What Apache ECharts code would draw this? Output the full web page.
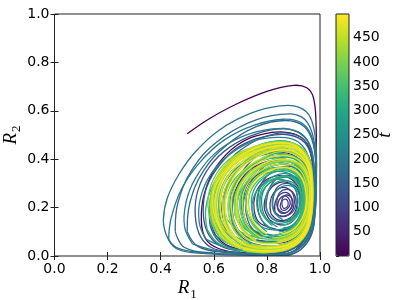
<!DOCTYPE html>
<html><head><meta charset="utf-8">
<script src="https://cdn.jsdelivr.net/npm/echarts@6/dist/echarts.min.js"></script>
<style>html,body{margin:0;padding:0;background:#fff}#c{width:405px;height:300px}</style>
</head><body><div id="c"></div>
<script>
// axis ticks
const xTicks = [0.0, 0.2, 0.4, 0.6, 0.8, 1.0];
const yTicks = [0.0, 0.2, 0.4, 0.6, 0.8, 1.0];
const cbTicks = [0, 50, 100, 150, 200, 250, 300, 350, 400, 450];
const tMin = 0, tMax = 499;
const viridis = ['#440154','#482475','#414487','#355f8d','#2a788e','#21918c','#22a884','#44bf70','#7ad151','#bddf26','#fde725'];

// trajectory (R1, R2), split into loops; loopTimes[i] = t at the start of loopPaths[i]
const loopTimes = [0,8,16,24,32,42,52,62,72,80,88,95,102,110,118,126,134,142,150,158,166,176,190,200,210,222,232,242,252,262,272,282,287,292,297,302,312,317,322,327,332,337,342,347,352,356,362,368,374,380,386,392,398,404,410,416,422,428,434,440,446,452,458,464,470,476,482,488,492,496,
  114,138,257,267,277,307,394,413,437,461,479,498,236,246];
const loopPaths = [
 [[0.50,0.505],[0.58,0.565],[0.68,0.625],[0.80,0.68],[0.90,0.705],[0.95,0.695],[0.975,0.655],[0.985,0.55],[0.985,0.40],[0.98,0.25],[0.965,0.13],[0.93,0.05],[0.88,0.01],[0.80,0.008],[0.70,0.015]],
 [[0.70,0.015],[0.62,0.03],[0.57,0.07],[0.553,0.15],[0.565,0.26],[0.61,0.37],[0.69,0.46],[0.79,0.505],[0.88,0.51],[0.94,0.48],[0.97,0.40],[0.975,0.27],[0.96,0.14],[0.92,0.05],[0.86,0.015],[0.76,0.02]],
 [[0.76,0.02],[0.66,0.04],[0.605,0.09],[0.59,0.17],[0.605,0.27],[0.65,0.36],[0.72,0.43],[0.81,0.465],[0.89,0.465],[0.945,0.43],[0.97,0.35],[0.97,0.23],[0.955,0.12],[0.91,0.05],[0.85,0.025],[0.78,0.035]],
 [[0.78,0.035],[0.69,0.06],[0.645,0.11],[0.63,0.19],[0.645,0.28],[0.69,0.36],[0.76,0.415],[0.84,0.43],[0.91,0.41],[0.955,0.35],[0.965,0.25],[0.95,0.15],[0.91,0.08],[0.86,0.055],[0.80,0.06]],
 [[0.80,0.06],[0.72,0.08],[0.68,0.13],[0.67,0.20],[0.685,0.28],[0.73,0.35],[0.80,0.39],[0.87,0.395],[0.925,0.36],[0.955,0.29],[0.955,0.20],[0.935,0.13],[0.895,0.09],[0.85,0.08],[0.80,0.09]],
 [[0.80,0.09],[0.74,0.11],[0.715,0.16],[0.71,0.22],[0.725,0.29],[0.77,0.34],[0.83,0.365],[0.89,0.355],[0.93,0.31],[0.945,0.24],[0.935,0.17],[0.905,0.12],[0.86,0.105],[0.82,0.115]],
 [[0.82,0.115],[0.77,0.14],[0.752,0.19],[0.755,0.25],[0.78,0.30],[0.83,0.33],[0.88,0.325],[0.915,0.29],[0.93,0.23],[0.915,0.17],[0.885,0.135],[0.845,0.13],[0.81,0.15]],
 [[0.81,0.15],[0.79,0.20],[0.80,0.255],[0.83,0.295],[0.87,0.305],[0.905,0.28],[0.915,0.23],[0.905,0.18],[0.875,0.15],[0.84,0.15],[0.815,0.175]],
 [[0.815,0.175],[0.812,0.22],[0.825,0.26],[0.855,0.283],[0.885,0.275],[0.902,0.245],[0.90,0.20],[0.88,0.17],[0.855,0.163],[0.83,0.18]],
 [[0.83,0.18],[0.832,0.225],[0.85,0.255],[0.875,0.262],[0.893,0.24],[0.893,0.205],[0.875,0.18],[0.852,0.178],[0.84,0.195]],
 [[0.84,0.195],[0.845,0.23],[0.865,0.248],[0.882,0.238],[0.888,0.215],[0.875,0.193],[0.857,0.19],[0.85,0.205]],
 [[0.85,0.205],[0.855,0.225],[0.87,0.235],[0.88,0.222],[0.876,0.203],[0.862,0.198],[0.857,0.212]],
 [[0.857,0.212],[0.858,0.238],[0.875,0.252],[0.893,0.24],[0.898,0.21],[0.882,0.185],[0.858,0.18],[0.84,0.20],[0.838,0.23]],
 [[0.838,0.23],[0.848,0.262],[0.875,0.275],[0.90,0.26],[0.91,0.22],[0.895,0.18],[0.865,0.165],[0.835,0.175],[0.822,0.21],[0.825,0.245]],
 [[0.825,0.245],[0.84,0.285],[0.875,0.30],[0.91,0.285],[0.925,0.235],[0.91,0.17],[0.87,0.145],[0.825,0.15],[0.80,0.19],[0.80,0.24]],
 [[0.80,0.24],[0.82,0.30],[0.86,0.33],[0.905,0.325],[0.935,0.28],[0.94,0.20],[0.915,0.135],[0.87,0.11],[0.81,0.115],[0.775,0.16],[0.765,0.22]],
 [[0.765,0.22],[0.78,0.30],[0.83,0.355],[0.89,0.37],[0.935,0.33],[0.955,0.25],[0.945,0.16],[0.91,0.10],[0.86,0.075],[0.79,0.08],[0.74,0.12],[0.72,0.19]],
 [[0.72,0.19],[0.73,0.28],[0.78,0.36],[0.85,0.405],[0.92,0.40],[0.96,0.33],[0.97,0.22],[0.95,0.12],[0.90,0.06],[0.82,0.04],[0.73,0.06],[0.68,0.11],[0.665,0.18]],
 [[0.665,0.18],[0.68,0.29],[0.73,0.38],[0.81,0.445],[0.89,0.455],[0.95,0.42],[0.975,0.32],[0.975,0.19],[0.955,0.09],[0.90,0.03],[0.81,0.015],[0.70,0.025],[0.62,0.06],[0.585,0.13]],
 [[0.585,0.13],[0.59,0.25],[0.64,0.37],[0.73,0.46],[0.83,0.505],[0.91,0.50],[0.96,0.45],[0.98,0.33],[0.978,0.18],[0.955,0.07],[0.89,0.015],[0.78,0.008],[0.64,0.015],[0.54,0.04],[0.50,0.10]],
 [[0.50,0.10],[0.51,0.22],[0.56,0.35],[0.65,0.46],[0.76,0.535],[0.87,0.56],[0.94,0.535],[0.975,0.46],[0.985,0.32],[0.98,0.16],[0.955,0.06],[0.89,0.008],[0.76,0.005],[0.60,0.012],[0.49,0.035],[0.455,0.10]],
 [[0.455,0.10],[0.465,0.22],[0.52,0.36],[0.61,0.47],[0.73,0.55],[0.85,0.585],[0.93,0.575],[0.97,0.51],[0.985,0.38],[0.983,0.20],[0.96,0.07],[0.89,0.005],[0.75,0.004],[0.57,0.01],[0.46,0.03],[0.42,0.09]],
 [[0.42,0.09],[0.41,0.15],[0.425,0.24],[0.47,0.34],[0.53,0.43],[0.62,0.52],[0.74,0.59],[0.85,0.62],[0.92,0.615],[0.965,0.57],[0.985,0.45],[0.985,0.28],[0.97,0.12],[0.92,0.03],[0.84,0.003],[0.70,0.006],[0.55,0.015],[0.46,0.035],[0.43,0.07]],
 [[0.43,0.07],[0.44,0.16],[0.48,0.28],[0.55,0.39],[0.64,0.48],[0.75,0.54],[0.86,0.565],[0.93,0.55],[0.97,0.49],[0.985,0.37],[0.98,0.20],[0.955,0.08],[0.89,0.015],[0.77,0.01],[0.62,0.02],[0.52,0.05]],
 [[0.52,0.05],[0.49,0.12],[0.495,0.22],[0.53,0.32],[0.60,0.42],[0.70,0.49],[0.82,0.525],[0.91,0.515],[0.96,0.46],[0.978,0.35],[0.975,0.20],[0.95,0.09],[0.89,0.03],[0.78,0.02],[0.65,0.035],[0.57,0.07]],
 [[0.57,0.07],[0.545,0.14],[0.55,0.24],[0.59,0.34],[0.66,0.42],[0.75,0.475],[0.85,0.49],[0.92,0.47],[0.96,0.40],[0.972,0.29],[0.965,0.17],[0.935,0.08],[0.87,0.035],[0.77,0.03],[0.66,0.05],[0.60,0.09]],
 [[0.60,0.09],[0.585,0.17],[0.60,0.27],[0.65,0.36],[0.73,0.43],[0.83,0.46],[0.91,0.44],[0.955,0.37],[0.965,0.26],[0.95,0.15],[0.91,0.07],[0.84,0.04],[0.74,0.045],[0.66,0.08]],
 [[0.66,0.08],[0.625,0.15],[0.625,0.25],[0.665,0.34],[0.74,0.40],[0.83,0.425],[0.90,0.405],[0.945,0.34],[0.955,0.24],[0.935,0.14],[0.89,0.08],[0.82,0.06],[0.74,0.07],[0.69,0.11]],
 [[0.69,0.11],[0.67,0.18],[0.68,0.26],[0.72,0.33],[0.79,0.38],[0.86,0.385],[0.92,0.35],[0.945,0.28],[0.94,0.19],[0.91,0.12],[0.86,0.09],[0.79,0.09],[0.73,0.12]],
 [[0.73,0.12],[0.71,0.19],[0.725,0.27],[0.77,0.33],[0.84,0.35],[0.90,0.33],[0.93,0.27],[0.93,0.19],[0.90,0.13],[0.85,0.11],[0.79,0.115],[0.75,0.15]],
 [[0.75,0.15],[0.745,0.22],[0.77,0.28],[0.82,0.315],[0.875,0.31],[0.91,0.27],[0.915,0.20],[0.89,0.15],[0.845,0.135],[0.80,0.15],[0.775,0.19]],
 [[0.775,0.19],[0.78,0.26],[0.82,0.31],[0.88,0.33],[0.925,0.30],[0.945,0.22],[0.93,0.14],[0.88,0.09],[0.80,0.08],[0.72,0.11],[0.68,0.17]],
 [[0.78,0.07],[0.725,0.12],[0.70,0.19],[0.705,0.26],[0.74,0.32],[0.80,0.365],[0.865,0.38],[0.92,0.36],[0.948,0.30],[0.95,0.21],[0.93,0.13],[0.885,0.085],[0.83,0.07]],
 [[0.68,0.17],[0.69,0.27],[0.74,0.36],[0.82,0.42],[0.90,0.43],[0.95,0.38],[0.97,0.27],[0.955,0.15],[0.91,0.06],[0.83,0.025],[0.72,0.03],[0.63,0.07],[0.595,0.14]],
 [[0.80,0.10],[0.76,0.145],[0.742,0.21],[0.75,0.27],[0.785,0.32],[0.84,0.35],[0.895,0.345],[0.93,0.30],[0.94,0.23],[0.925,0.16],[0.89,0.115],[0.845,0.10]],
 [[0.595,0.14],[0.60,0.25],[0.645,0.35],[0.72,0.43],[0.81,0.47],[0.89,0.47],[0.945,0.43],[0.968,0.34],[0.97,0.22],[0.95,0.11],[0.90,0.04],[0.82,0.015],[0.71,0.02],[0.62,0.05],[0.575,0.11]],
 [[0.575,0.11],[0.57,0.20],[0.60,0.30],[0.66,0.39],[0.75,0.45],[0.84,0.475],[0.91,0.46],[0.955,0.40],[0.968,0.30],[0.963,0.18],[0.93,0.08],[0.87,0.03],[0.78,0.02],[0.69,0.04],[0.63,0.09]],
 [[0.79,0.09],[0.745,0.135],[0.722,0.20],[0.728,0.27],[0.765,0.325],[0.825,0.36],[0.885,0.36],[0.93,0.32],[0.945,0.25],[0.935,0.17],[0.90,0.115],[0.85,0.09]],
 [[0.63,0.09],[0.605,0.17],[0.615,0.27],[0.66,0.36],[0.74,0.425],[0.83,0.45],[0.905,0.43],[0.95,0.37],[0.963,0.27],[0.95,0.16],[0.91,0.08],[0.85,0.045],[0.76,0.045],[0.68,0.08]],
 [[0.82,0.125],[0.785,0.17],[0.772,0.23],[0.785,0.285],[0.825,0.32],[0.875,0.33],[0.915,0.30],[0.93,0.24],[0.92,0.18],[0.89,0.14],[0.85,0.125]],
 [[0.68,0.08],[0.645,0.15],[0.645,0.24],[0.68,0.32],[0.75,0.38],[0.83,0.405],[0.90,0.385],[0.94,0.32],[0.948,0.23],[0.925,0.14],[0.875,0.085],[0.80,0.07],[0.72,0.09]],
 [[0.77,0.07],[0.715,0.12],[0.69,0.195],[0.697,0.27],[0.735,0.335],[0.80,0.375],[0.87,0.39],[0.925,0.365],[0.952,0.30],[0.953,0.21],[0.93,0.13],[0.88,0.085],[0.82,0.07]],
 [[0.72,0.09],[0.69,0.15],[0.69,0.23],[0.72,0.30],[0.78,0.35],[0.85,0.365],[0.91,0.34],[0.935,0.27],[0.93,0.18],[0.90,0.12],[0.85,0.09],[0.77,0.08],[0.70,0.10],[0.65,0.15]],
 [[0.80,0.09],[0.755,0.13],[0.732,0.195],[0.738,0.265],[0.775,0.32],[0.835,0.355],[0.895,0.35],[0.932,0.305],[0.943,0.235],[0.93,0.16],[0.895,0.11],[0.845,0.09]],
 [[0.65,0.15],[0.64,0.24],[0.67,0.33],[0.74,0.41],[0.82,0.45],[0.90,0.45],[0.95,0.40],[0.968,0.30],[0.965,0.18],[0.94,0.09],[0.89,0.04],[0.81,0.025],[0.72,0.035],[0.645,0.07],[0.60,0.13]],
 [[0.70,0.05],[0.645,0.10],[0.62,0.18],[0.625,0.27],[0.665,0.35],[0.735,0.41],[0.82,0.44],[0.895,0.435],[0.945,0.39],[0.965,0.30],[0.962,0.19],[0.935,0.10],[0.88,0.05],[0.80,0.035],[0.72,0.045]],
 [[0.60,0.13],[0.59,0.22],[0.615,0.31],[0.67,0.39],[0.75,0.445],[0.84,0.47],[0.91,0.455],[0.955,0.39],[0.97,0.29],[0.965,0.17],[0.935,0.08],[0.88,0.03],[0.79,0.02],[0.70,0.035],[0.63,0.08]],
 [[0.72,0.06],[0.675,0.11],[0.655,0.19],[0.665,0.27],[0.705,0.34],[0.77,0.395],[0.85,0.42],[0.915,0.405],[0.952,0.35],[0.962,0.26],[0.95,0.16],[0.915,0.09],[0.86,0.06],[0.79,0.055],[0.73,0.07]],
 [[0.63,0.08],[0.60,0.15],[0.60,0.24],[0.635,0.33],[0.70,0.40],[0.78,0.44],[0.86,0.455],[0.92,0.435],[0.957,0.37],[0.968,0.27],[0.958,0.16],[0.925,0.08],[0.87,0.04],[0.79,0.035],[0.71,0.05],[0.65,0.09]],
 [[0.68,0.04],[0.62,0.08],[0.585,0.16],[0.58,0.25],[0.61,0.34],[0.67,0.41],[0.75,0.45],[0.84,0.465],[0.91,0.45],[0.955,0.40],[0.97,0.31],[0.968,0.19],[0.945,0.09],[0.89,0.035],[0.80,0.015],[0.72,0.02]],
 [[0.65,0.09],[0.615,0.16],[0.61,0.25],[0.645,0.34],[0.715,0.41],[0.80,0.45],[0.88,0.455],[0.935,0.42],[0.962,0.35],[0.968,0.24],[0.95,0.13],[0.91,0.06],[0.84,0.03],[0.75,0.03],[0.67,0.06]],
 [[0.72,0.04],[0.665,0.09],[0.64,0.17],[0.645,0.26],[0.685,0.345],[0.75,0.405],[0.83,0.435],[0.905,0.425],[0.95,0.375],[0.966,0.29],[0.96,0.18],[0.93,0.09],[0.875,0.045],[0.80,0.03],[0.73,0.04]],
 [[0.67,0.06],[0.62,0.12],[0.60,0.20],[0.61,0.29],[0.655,0.37],[0.73,0.43],[0.82,0.46],[0.90,0.455],[0.95,0.41],[0.97,0.32],[0.968,0.20],[0.945,0.10],[0.89,0.04],[0.81,0.02],[0.72,0.03],[0.65,0.065]],
 [[0.73,0.03],[0.65,0.07],[0.605,0.14],[0.598,0.23],[0.62,0.32],[0.675,0.395],[0.75,0.44],[0.835,0.455],[0.905,0.44],[0.95,0.39],[0.967,0.30],[0.965,0.18],[0.94,0.09],[0.885,0.04],[0.80,0.025],[0.73,0.035]],
 [[0.65,0.065],[0.60,0.13],[0.585,0.21],[0.60,0.30],[0.65,0.38],[0.73,0.44],[0.82,0.47],[0.90,0.465],[0.952,0.42],[0.972,0.33],[0.97,0.20],[0.948,0.10],[0.90,0.04],[0.82,0.015],[0.73,0.02],[0.66,0.05]],
 [[0.75,0.07],[0.70,0.12],[0.678,0.19],[0.685,0.265],[0.72,0.33],[0.78,0.38],[0.85,0.40],[0.91,0.385],[0.945,0.335],[0.955,0.25],[0.945,0.16],[0.91,0.10],[0.86,0.07],[0.80,0.065]],
 [[0.66,0.05],[0.615,0.10],[0.595,0.18],[0.605,0.27],[0.65,0.36],[0.72,0.42],[0.81,0.455],[0.89,0.455],[0.945,0.41],[0.968,0.32],[0.966,0.20],[0.94,0.10],[0.885,0.045],[0.81,0.03],[0.73,0.04],[0.67,0.08]],
 [[0.71,0.035],[0.65,0.08],[0.618,0.155],[0.613,0.24],[0.64,0.33],[0.70,0.40],[0.78,0.44],[0.86,0.455],[0.925,0.435],[0.96,0.375],[0.97,0.28],[0.963,0.17],[0.935,0.085],[0.88,0.04],[0.80,0.025],[0.72,0.035]],
 [[0.67,0.08],[0.635,0.14],[0.625,0.22],[0.645,0.31],[0.70,0.385],[0.78,0.43],[0.86,0.445],[0.925,0.42],[0.958,0.35],[0.965,0.25],[0.95,0.14],[0.91,0.07],[0.85,0.04],[0.77,0.04],[0.70,0.06],[0.64,0.11]],
 [[0.73,0.05],[0.68,0.10],[0.655,0.175],[0.66,0.26],[0.70,0.34],[0.765,0.395],[0.845,0.43],[0.915,0.415],[0.955,0.36],[0.965,0.27],[0.957,0.17],[0.925,0.09],[0.87,0.05],[0.80,0.04],[0.74,0.05]],
 [[0.64,0.11],[0.61,0.19],[0.615,0.28],[0.66,0.37],[0.735,0.43],[0.82,0.465],[0.90,0.46],[0.95,0.41],[0.97,0.31],[0.967,0.19],[0.94,0.09],[0.88,0.035],[0.80,0.02],[0.71,0.03],[0.64,0.07]],
 [[0.70,0.03],[0.635,0.075],[0.598,0.15],[0.592,0.24],[0.615,0.33],[0.67,0.405],[0.75,0.45],[0.84,0.465],[0.915,0.45],[0.958,0.395],[0.972,0.30],[0.97,0.18],[0.945,0.085],[0.885,0.03],[0.79,0.015],[0.71,0.025]],
 [[0.64,0.07],[0.60,0.14],[0.59,0.23],[0.615,0.32],[0.675,0.40],[0.76,0.45],[0.85,0.47],[0.92,0.45],[0.96,0.38],[0.972,0.27],[0.965,0.15],[0.93,0.07],[0.87,0.03],[0.79,0.02],[0.71,0.035],[0.655,0.075]],
 [[0.72,0.045],[0.665,0.09],[0.636,0.165],[0.635,0.25],[0.67,0.335],[0.735,0.40],[0.815,0.435],[0.895,0.435],[0.945,0.39],[0.966,0.30],[0.962,0.19],[0.935,0.095],[0.88,0.045],[0.80,0.03],[0.73,0.04]],
 [[0.655,0.075],[0.615,0.14],[0.605,0.22],[0.625,0.30],[0.68,0.38],[0.76,0.43],[0.84,0.45],[0.91,0.44],[0.955,0.38],[0.968,0.28],[0.96,0.17],[0.93,0.08],[0.87,0.04],[0.79,0.035],[0.71,0.05],[0.66,0.09]],
 [[0.74,0.06],[0.69,0.11],[0.668,0.18],[0.672,0.26],[0.71,0.335],[0.775,0.39],[0.85,0.415],[0.915,0.40],[0.952,0.345],[0.962,0.26],[0.952,0.165],[0.92,0.095],[0.865,0.06],[0.80,0.05],[0.75,0.06]],
 [[0.66,0.09],[0.63,0.16],[0.625,0.25],[0.66,0.34],[0.73,0.41],[0.81,0.45],[0.89,0.455],[0.94,0.42],[0.965,0.34],[0.97,0.23],[0.955,0.12],[0.91,0.05],[0.84,0.025],[0.75,0.025],[0.68,0.05],[0.63,0.10]],
 [[0.70,0.035],[0.645,0.08],[0.612,0.155],[0.607,0.24],[0.635,0.33],[0.695,0.40],[0.775,0.44],[0.86,0.455],[0.925,0.435],[0.96,0.38],[0.97,0.285],[0.965,0.175],[0.938,0.085],[0.88,0.035],[0.80,0.02],[0.71,0.03]],
 [[0.63,0.10],[0.60,0.18],[0.60,0.27],[0.64,0.35],[0.71,0.42],[0.80,0.46],[0.88,0.465],[0.935,0.43],[0.963,0.35],[0.97,0.24],[0.96,0.13],[0.92,0.06],[0.86,0.03]],
 [[0.72,0.045],[0.67,0.095],[0.645,0.17],[0.648,0.255],[0.685,0.34],[0.75,0.40],[0.83,0.435],[0.905,0.43],[0.95,0.38],[0.967,0.29],[0.962,0.18],[0.935,0.09],[0.875,0.045],[0.80,0.035]],
 // additional loops (times listed at the end of loopTimes)
 [[0.70,0.02],[0.62,0.045],[0.575,0.10],[0.56,0.19],[0.575,0.29],[0.625,0.38],[0.70,0.455],[0.80,0.495],[0.885,0.50],[0.945,0.465],[0.972,0.38],[0.975,0.25],[0.96,0.13],[0.915,0.05],[0.84,0.015],[0.74,0.015]],
 [[0.70,0.015],[0.60,0.03],[0.55,0.08],[0.53,0.17],[0.54,0.27],[0.585,0.37],[0.66,0.45],[0.76,0.505],[0.86,0.525],[0.93,0.505],[0.968,0.44],[0.978,0.32],[0.972,0.18],[0.945,0.08],[0.88,0.02],[0.78,0.01]],
 [[0.78,0.08],[0.73,0.125],[0.705,0.195],[0.71,0.27],[0.75,0.33],[0.815,0.37],[0.88,0.38],[0.93,0.35],[0.952,0.28],[0.948,0.19],[0.92,0.12],[0.87,0.085],[0.82,0.075]],
 [[0.82,0.11],[0.78,0.15],[0.762,0.21],[0.77,0.27],[0.805,0.315],[0.86,0.34],[0.91,0.325],[0.94,0.27],[0.94,0.20],[0.915,0.14],[0.87,0.11]],
 [[0.84,0.14],[0.805,0.175],[0.795,0.23],[0.81,0.28],[0.85,0.31],[0.895,0.305],[0.925,0.265],[0.93,0.21],[0.91,0.16],[0.875,0.14]],
 [[0.74,0.06],[0.685,0.11],[0.662,0.185],[0.668,0.265],[0.705,0.335],[0.77,0.39],[0.85,0.41],[0.915,0.395],[0.952,0.34],[0.96,0.25],[0.948,0.16],[0.912,0.09],[0.86,0.06],[0.79,0.055]],
 [[0.77,0.07],[0.72,0.12],[0.70,0.19],[0.705,0.265],[0.74,0.33],[0.80,0.375],[0.87,0.39],[0.925,0.37],[0.955,0.31],[0.958,0.22],[0.94,0.14],[0.895,0.09],[0.835,0.07]],
 [[0.79,0.085],[0.745,0.13],[0.722,0.195],[0.726,0.265],[0.76,0.325],[0.82,0.36],[0.885,0.365],[0.93,0.33],[0.95,0.265],[0.945,0.185],[0.915,0.125],[0.865,0.09]],
 [[0.76,0.065],[0.71,0.115],[0.69,0.19],[0.695,0.27],[0.735,0.335],[0.80,0.38],[0.87,0.395],[0.925,0.375],[0.955,0.315],[0.96,0.225],[0.94,0.14],[0.895,0.085],[0.83,0.065]],
 [[0.78,0.075],[0.73,0.12],[0.71,0.19],[0.714,0.265],[0.75,0.33],[0.81,0.37],[0.875,0.38],[0.925,0.355],[0.95,0.29],[0.95,0.20],[0.925,0.125],[0.875,0.085],[0.82,0.075]],
 [[0.76,0.06],[0.705,0.11],[0.685,0.185],[0.69,0.265],[0.73,0.335],[0.795,0.385],[0.865,0.40],[0.925,0.38],[0.955,0.32],[0.96,0.23],[0.945,0.145],[0.90,0.085],[0.84,0.06]],
 [[0.80,0.09],[0.755,0.135],[0.73,0.20],[0.735,0.27],[0.77,0.325],[0.83,0.36],[0.89,0.36],[0.932,0.32],[0.948,0.25],[0.94,0.175],[0.905,0.115],[0.855,0.09]],
 [[0.84,0.12],[0.795,0.16],[0.78,0.22],[0.79,0.275],[0.83,0.315],[0.88,0.325],[0.92,0.30],[0.937,0.24],[0.93,0.175],[0.90,0.13],[0.86,0.115]],
 [[0.86,0.15],[0.828,0.18],[0.82,0.225],[0.832,0.265],[0.865,0.29],[0.90,0.285],[0.922,0.25],[0.922,0.20],[0.90,0.16],[0.87,0.148]]
];

const FONT = 'DejaVu Sans';
const tickFmt = v => v.toFixed(1);
const frame = '#222';
const serif = 'Liberation Serif';
const LABEL_SIZE = 14;

// draw loops in time order so later loops sit on top
const seriesData = loopTimes.map((t, i) => [i, t]).sort((a, b) => a[1] - b[1]);

const chart = echarts.init(document.getElementById('c'), null, {renderer: 'canvas'});
chart.setOption({
  animation: false,
  backgroundColor: '#fff',
  grid: [
    {left: 54.5, top: 14, width: 265.5, height: 242, show: true, borderColor: frame, borderWidth: 1, backgroundColor: 'transparent', z: 5, outerBoundsMode: 'none', containLabel: false},
    {left: 336, top: 14, width: 13, height: 242, show: true, borderColor: frame, borderWidth: 1, backgroundColor: 'transparent', z: 10, outerBoundsMode: 'none', containLabel: false}
  ],
  xAxis: [
    {gridIndex: 0, type: 'value', min: xTicks[0], max: xTicks[xTicks.length-1], interval: 0.2, position: 'bottom',
     axisLine: {show: false}, splitLine: {show: false},
     axisTick: {inside: true, length: 4, lineStyle: {color: frame}},
     axisLabel: {margin: 6, fontFamily: FONT, fontSize: LABEL_SIZE, color: '#000', formatter: tickFmt},
     name: '{i|R}{s|1}', nameLocation: 'middle', nameGap: 22, nameMoveOverlap: false,
     nameTextStyle: {rich: {i: {fontFamily: serif, fontStyle: 'italic', fontSize: 19, color: '#000', lineHeight: 20},
                            s: {fontFamily: serif, fontSize: 13, color: '#000', verticalAlign: 'bottom', lineHeight: 20, padding: [0,0,-3,1]}}}},
    {gridIndex: 0, type: 'value', min: 0, max: 1, interval: 0.2, position: 'top',
     axisLine: {show: false}, splitLine: {show: false}, axisLabel: {show: false},
     axisTick: {inside: true, length: 4, lineStyle: {color: frame}}},
    {gridIndex: 1, type: 'value', min: 0, max: 1, show: false}
  ],
  yAxis: [
    {gridIndex: 0, type: 'value', min: yTicks[0], max: yTicks[yTicks.length-1], interval: 0.2, position: 'left',
     axisLine: {show: false}, splitLine: {show: false},
     axisTick: {inside: true, length: 4, lineStyle: {color: frame}},
     axisLabel: {margin: 5, fontFamily: FONT, fontSize: LABEL_SIZE, color: '#000', formatter: tickFmt},
     name: '{i|R}{s|2}', nameLocation: 'middle', nameGap: 34, nameRotate: 90, nameMoveOverlap: false,
     nameTextStyle: {rich: {i: {fontFamily: serif, fontStyle: 'italic', fontSize: 19, color: '#000', lineHeight: 20},
                            s: {fontFamily: serif, fontSize: 13, color: '#000', verticalAlign: 'bottom', lineHeight: 20, padding: [0,0,-3,1]}}}},
    {gridIndex: 0, type: 'value', min: 0, max: 1, interval: 0.2, position: 'right',
     axisLine: {show: false}, splitLine: {show: false}, axisLabel: {show: false},
     axisTick: {inside: true, length: 4, lineStyle: {color: frame}}},
    {gridIndex: 1, type: 'value', min: tMin, max: tMax, interval: 50, position: 'right',
     axisLine: {show: false}, splitLine: {show: false},
     axisTick: {show: true, inside: false, length: 3, lineStyle: {color: frame}},
     axisLabel: {margin: 4, fontFamily: FONT, fontSize: LABEL_SIZE, color: '#000', showMaxLabel: false},
     name: 't', nameLocation: 'middle', nameGap: 26, nameRotate: 90, nameMoveOverlap: false,
     nameTextStyle: {fontFamily: serif, fontStyle: 'italic', fontSize: 19, color: '#000', lineHeight: 20}}
  ],
  visualMap: {
    type: 'continuous', min: tMin, max: tMax, dimension: 1, seriesIndex: 0,
    inRange: {color: viridis}, calculable: false, hoverLink: false,
    orient: 'vertical', itemWidth: 13, itemHeight: 242, left: 331, top: 9, padding: 5,
    textStyle: {color: 'transparent'}
  },
  series: [{
    type: 'custom', coordinateSystem: 'cartesian2d', xAxisIndex: 0, yAxisIndex: 0,
    data: seriesData,
    encode: {x: 0, y: 1},
    clip: true,
    renderItem: function (params, api) {
      const path = loopPaths[api.value(0)];
      const pts = path.map(p => api.coord(p));
      return {type: 'polyline', silent: true,
              shape: {points: pts, smooth: 0.4},
              style: {stroke: api.visual('color'), fill: null, lineWidth: 1.3}};
    }
  }]
});
</script>
</body></html>
